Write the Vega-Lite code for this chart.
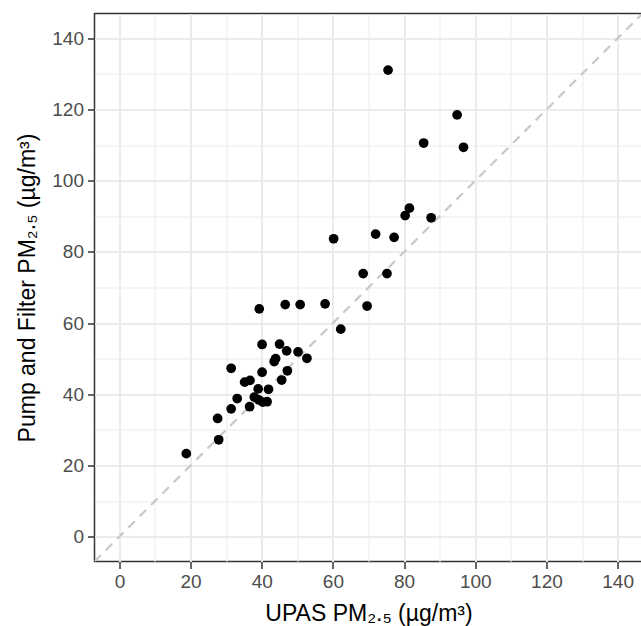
{
  "$schema": "https://vega.github.io/schema/vega-lite/v6.json",
  "autosize": "none",
  "width": 548,
  "height": 548,
  "padding": {"left": 94.5, "top": 13.5, "right": 0, "bottom": 64},
  "background": "white",
  "datasets": {
    "pts": [
      {"upas": 18.8, "pump": 23.3},
      {"upas": 27.9, "pump": 27.2},
      {"upas": 27.6, "pump": 33.2},
      {"upas": 31.4, "pump": 35.9},
      {"upas": 31.4, "pump": 47.3},
      {"upas": 33.1, "pump": 38.8},
      {"upas": 35.2, "pump": 43.4},
      {"upas": 36.7, "pump": 43.9},
      {"upas": 36.6, "pump": 36.5},
      {"upas": 37.9, "pump": 39.2},
      {"upas": 39.0, "pump": 41.5},
      {"upas": 39.2, "pump": 38.4},
      {"upas": 40.3, "pump": 37.8},
      {"upas": 41.5, "pump": 37.9},
      {"upas": 41.9, "pump": 41.4},
      {"upas": 40.1, "pump": 46.2},
      {"upas": 40.1, "pump": 54.0},
      {"upas": 39.3, "pump": 64.0},
      {"upas": 43.5, "pump": 49.2},
      {"upas": 43.9, "pump": 50.0},
      {"upas": 45.0, "pump": 54.1},
      {"upas": 45.6, "pump": 44.0},
      {"upas": 47.2, "pump": 46.6},
      {"upas": 47.0, "pump": 52.2},
      {"upas": 50.2, "pump": 51.9},
      {"upas": 52.7, "pump": 50.1},
      {"upas": 46.6, "pump": 65.2},
      {"upas": 50.8, "pump": 65.2},
      {"upas": 57.8, "pump": 65.4},
      {"upas": 62.2, "pump": 58.3},
      {"upas": 69.6, "pump": 64.8},
      {"upas": 60.2, "pump": 83.7},
      {"upas": 68.5, "pump": 73.9},
      {"upas": 75.2, "pump": 73.9},
      {"upas": 72.0, "pump": 85.0},
      {"upas": 77.2, "pump": 84.1},
      {"upas": 80.3, "pump": 90.2},
      {"upas": 81.5, "pump": 92.3},
      {"upas": 87.6, "pump": 89.6},
      {"upas": 75.5, "pump": 131.1},
      {"upas": 85.5, "pump": 110.6},
      {"upas": 94.9, "pump": 118.5},
      {"upas": 96.7, "pump": 109.4}
    ],
    "ident": [
      {"upas": -7, "pump": -7},
      {"upas": 147, "pump": 147}
    ]
  },
  "encoding": {
    "x": {
      "field": "upas", "type": "quantitative",
      "scale": {"domain": [-7, 147], "nice": false, "zero": false},
      "title": "UPAS PM₂.₅ (µg/m³)",
      "axis": {"titlePadding": 11}
    },
    "y": {
      "field": "pump", "type": "quantitative",
      "scale": {"domain": [-7, 147], "nice": false, "zero": false},
      "title": "Pump and Filter PM₂.₅ (µg/m³)",
      "axis": {"titlePadding": 12}
    }
  },
  "layer": [
    {
      "data": {"name": "ident"},
      "mark": {"type": "line", "color": "#c4c4c4", "strokeWidth": 2, "strokeDash": [9, 7], "clip": true}
    },
    {
      "data": {"name": "pts"},
      "mark": {"type": "circle", "color": "black", "opacity": 1, "size": 95}
    }
  ],
  "config": {
    "view": {"stroke": "#333333", "strokeWidth": 1.5},
    "axis": {
      "values": [0, 10, 20, 30, 40, 50, 60, 70, 80, 90, 100, 110, 120, 130, 140],
      "labelExpr": "datum.value % 20 === 0 ? datum.label : ''",
      "labelOverlap": false,
      "labelFlush": false,
      "domain": false,
      "grid": true,
      "gridColor": "#ebebeb",
      "gridWidth": {"condition": {"test": "datum.value % 20 !== 0", "value": 1}, "value": 2},
      "tickColor": "#333333",
      "tickSize": 7,
      "tickWidth": 1.5,
      "tickOpacity": {"condition": {"test": "datum.value % 20 !== 0", "value": 0}, "value": 1},
      "labelFont": "Liberation Sans",
      "labelFontSize": 19,
      "labelColor": "#4d4d4d",
      "labelPadding": 4,
      "titleFont": "Liberation Sans",
      "titleFontSize": 23,
      "titleFontWeight": "normal",
      "titleColor": "black"
    }
  }
}
